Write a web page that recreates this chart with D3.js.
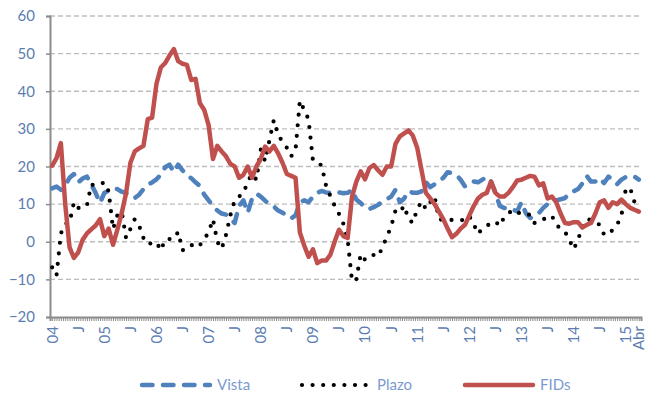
<!DOCTYPE html>
<html>
<head>
<meta charset="utf-8">
<script src="https://cdn.jsdelivr.net/npm/d3@7"></script>
<style>
  body { margin: 0; background: #fff; }
  svg { display: block; font-family: Lato, "Open Sans", sans-serif; }
</style>
</head>
<body>
<div id="chart"></div>
<script>
// monthly growth rates, Jan 2004 .. Apr 2015
const vista = [
  14.2, 14.7, 13.8, 15, 17, 18, 15.8, 16.8, 17.3, 15.2,
  13, 10.3, 13, 13.5, 14.2, 14, 13.3, 12.9, 12.3, 11.6,
  12.5, 14, 15.1, 15.8, 16.6, 17.8, 19.8, 20.5, 18.5, 20.5,
  19, 17.5, 16.9, 15.8, 14.8, 12.5, 11, 9.5, 8.3, 7.5,
  7.2, 6, 5, 9.5, 11, 7.7, 11.5, 12.8, 12, 10.9,
  10, 9.4, 8.3, 7.7, 7, 6.2, 7, 10.5, 11, 10.5,
  12, 13, 13.5, 13.1, 13, 13, 13.1, 12.9, 13, 13.8,
  11.2, 10.3, 9, 8.7, 9.2, 9.8, 10.7, 11.3, 12, 13.8,
  10.5, 11.5, 13.5, 13, 13, 13.4, 15.8, 14.5, 15.3, 16,
  17, 18.5, 18.2, 17.8, 16.5, 14.7, 15.6, 16, 15.8, 16.5,
  17.3, 16, 13, 9.5, 9, 9, 8.5, 8.1, 10.5, 7.6,
  6.3, 6.7, 7.6, 9, 10, 10.5, 11, 11.3, 11.6, 12.9,
  13.4, 14, 15.5, 17.5, 16, 16, 16.9, 15.6, 17.3, 16.5,
  15.3, 16.5, 17.2, 17, 17.3, 16.5
];
const plazo = [
  -6.8, -9, 2.2, 4.8, 5, 10.5, 9, 9, 9.6, 15.2,
  15, 15.2, 15.8, 13.4, 3.4, 7, 8, 1, 3.4, 6,
  4.3, 1, -0.7, -0.3, -0.1, -2.3, 0.6, 0.7, 0.8, 2.6,
  -2.3, -1.5, -0.8, -1.6, -0.9, 0.7, 2.5, 6, 0, -1.9,
  1.8, 7, 11, 12, 12.8, 16, 18, 16.5, 24.5, 21.4,
  27, 32.3, 28.5, 26.5, 25, 22.7, 24.4, 37.5, 35, 32.5,
  21.6, 21, 20.3, 15, 12.2, 9.6, 7.4, 4.8, 0.5, -10.5,
  -10, -3.3, -4.8, -3.8, -3.5, -3.9, -1.5, 1.3, 4, 8.3,
  7.8, 9.6, 6, 5, 8.7, 10.7, 8.7, 10.5, 12, 6,
  5.8, 5.8, 5.8, 5.8, 5.8, 5.7, 6.8, 4.7, 2.1, 3.5,
  4.2, 5, 5.4, 4.2, 6.5, 7.5, 8.5, 8, 7.2, 7.2,
  7.2, 5, 5.8, 6, 6.3, 6.9, 4.5, 3.5, 2.7, 0.5,
  -2, 0.5, 4, 6, 5.8, 5.2, 4.5, 1.9, 1.9, 3.2,
  4.5, 7, 14, 14.3, 10.5, 9.5
];
const fids = [
  20.2, 22.2, 26.2, 10, -1.5, -4.3, -2.8, 0.5, 2.2, 3.3,
  4.3, 6, 1.5, 3.5, -0.8, 3.2, 7.6, 12.9, 21, 24,
  24.8, 25.5, 32.6, 33, 42, 46.3, 47.5, 49.5, 51.2, 48,
  47.3, 47, 43, 43.3, 36.8, 35, 31, 22, 25.5, 24,
  22.7, 20.7, 20, 17, 17.8, 20, 17, 20, 22, 25.3,
  24, 25.5, 23.5, 21, 18, 17.5, 17, 2.5, -1, -4,
  -2, -5.7, -5, -5, -3.5, 0, 3.2, 1.5, 1, 12,
  16, 18.7, 16.6, 19.6, 20.4, 19, 17.8, 20, 20, 26,
  28, 28.8, 29.6, 28.2, 25, 19, 13, 11.5, 10, 8,
  6, 3.5, 1.2, 2.1, 3.5, 4.5, 7, 9.5, 11.5, 12.5,
  13, 16, 13, 12, 12, 13, 14.5, 16.3, 16.5, 17,
  17.5, 17.3, 15, 15.5, 11.5, 12, 10.5, 7.5, 5, 4.8,
  5.2, 5.2, 3.8, 4.5, 5, 7.5, 10.5, 11, 9, 10.5,
  10, 11.2, 10, 9, 8.5, 8
];

const labelMonths = [0, 6, 12, 18, 24, 30, 36, 42, 48, 54, 60, 66, 72, 78, 84, 90, 96, 102, 108, 114, 120, 126, 132, 135];
const labelText = ["04", "J", "05", "J", "06", "J", "07", "J", "08", "J", "09", "J", "10", "J", "11", "J", "12", "J", "13", "J", "14", "J", "15", "Abr"];
const yTicks = [-20, -10, 0, 10, 20, 30, 40, 50, 60];
const seriesNames = ["Vista", "Plazo", "FIDs"];

const width = 657, height = 400;
const plotLeft = 50, plotRight = 641, plotTop = 16, plotBottom = 317;

const svg = d3.select("#chart").append("svg")
  .attr("width", width)
  .attr("height", height);

const x = d3.scaleLinear().domain([-0.5, vista.length - 0.5]).range([plotLeft, plotRight]);
const y = d3.scaleLinear().domain([-20, 60]).range([plotBottom, plotTop]);

// gridlines
svg.append("g")
  .selectAll("line")
  .data(yTicks.filter(d => d > -20))
  .join("line")
  .attr("x1", plotLeft).attr("x2", plotRight)
  .attr("y1", d => y(d)).attr("y2", d => y(d))
  .attr("stroke", "#bdbdbd")
  .attr("stroke-width", 1.3)
  .attr("stroke-dasharray", "5,3");

// y axis
const yAxis = svg.append("g")
  .attr("transform", `translate(${plotLeft},0)`)
  .call(d3.axisLeft(y).tickValues(yTicks).tickSize(4).tickPadding(11));
yAxis.select(".domain").attr("stroke", "#8c8c8c").attr("stroke-width", 2);
yAxis.selectAll(".tick line").attr("stroke", "#8c8c8c").attr("stroke-width", 1.5);
yAxis.selectAll(".tick text")
  .attr("fill", "#5b7db1")
  .attr("font-size", 15)
  .attr("font-family", "Lato, sans-serif");

// x axis: half-month ticks
const xAxis = svg.append("g")
  .attr("transform", `translate(0,${plotBottom})`)
  .call(d3.axisBottom(x).tickValues(d3.range(-0.5, vista.length, 0.5)).tickSize(4).tickFormat(""));
xAxis.select(".domain").attr("stroke", "#8c8c8c").attr("stroke-width", 2);
xAxis.selectAll(".tick line").attr("stroke", "#8c8c8c").attr("stroke-width", 1);

svg.append("g")
  .selectAll("text")
  .data(labelMonths)
  .join("text")
  .attr("transform", d => `translate(${x(d)},${plotBottom + 9}) rotate(-90)`)
  .attr("dy", "0.36em")
  .attr("text-anchor", "end")
  .attr("fill", "#5b7db1")
  .attr("font-size", 15)
  .text((d, i) => labelText[i]);

// series
const line = d3.line()
  .x((d, i) => x(i))
  .y(d => y(d));

const styles = [
  { color: "#4f81bd", width: 4.5, dash: "10.5 10.5", cap: "round" },
  { color: "#000000", width: 4.2, dash: "0 10.6", cap: "round" },
  { color: "#c0504d", width: 4.5, dash: null, cap: "round" }
];
const seriesData = [vista, plazo, fids];

seriesData.forEach((s, k) => {
  svg.append("path")
    .datum(s)
    .attr("fill", "none")
    .attr("stroke", styles[k].color)
    .attr("stroke-width", styles[k].width)
    .attr("stroke-dasharray", styles[k].dash)
    .attr("stroke-linecap", styles[k].cap)
    .attr("stroke-linejoin", "round")
    .attr("d", line);
});

// legend
const legendX = [142, 302, 465];
const legendY = 385;
const legend = svg.append("g");
seriesNames.forEach((name, k) => {
  legend.append("line")
    .attr("x1", legendX[k]).attr("x2", legendX[k] + 68)
    .attr("y1", legendY).attr("y2", legendY)
    .attr("stroke", styles[k].color)
    .attr("stroke-width", styles[k].width)
    .attr("stroke-dasharray", styles[k].dash)
    .attr("stroke-linecap", styles[k].cap);
  legend.append("text")
    .attr("x", legendX[k] + 75)
    .attr("y", legendY)
    .attr("dy", "0.36em")
    .attr("fill", "#7b9ad0")
    .attr("font-size", 15)
    .text(name);
});
</script>
</body>
</html>
